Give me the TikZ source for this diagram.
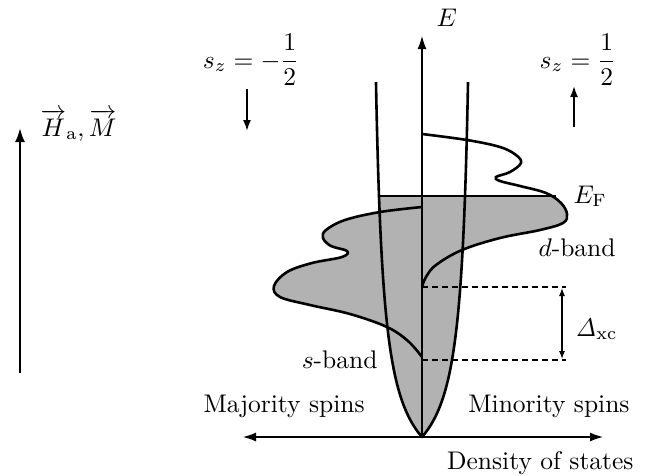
\documentclass[tikz,border=0pt]{standalone}
\usepackage{amsmath}
\usetikzlibrary{arrows.meta}
\begin{document}
\begin{tikzpicture}[x=1pt,y=-1pt,
  lbl/.style={inner sep=0pt,font=\normalsize,scale=2.55},
  thickc/.style={line width=2.6pt},
  thinl/.style={line width=1.3pt},
  shade/.style={fill=black!30},
  bigtip/.style={-{Latex[length=13pt,width=9pt]}},
  dashl/.style={line width=1.2pt,dash pattern=on 6pt off 4pt}]
\useasboundingbox (0,0) rectangle (646,475);
% coordinates
\coordinate (O) at (422,437);
\coordinate (Etop) at (422,36);
\coordinate (Dl) at (243,437);
\coordinate (Dr) at (603,437);
\coordinate (F1) at (378.5,196);
\coordinate (F2) at (556,196);
\coordinate (dbot) at (422,287);
\coordinate (sbot) at (422,360);
\coordinate (dend) at (566,287);
\coordinate (send) at (566,360);
\coordinate (xa) at (562,288);
\coordinate (xb) at (562,359);
% fills
\begin{scope}
\clip (0,196) rectangle (646,475);
\fill[shade] plot[domain=355:0,samples=90] ({422-54*(\x/(\x+61.6))},{437-\x})
  -- plot[domain=0:355,samples=90] ({422+54*(\x/(\x+61.6))},{437-\x}) -- cycle;
\fill[shade] plot[smooth,tension=0.6] coordinates {(422,134) (467,140) (500,147) (516,155) (521,163) (510,172) (496,177) (500,181) (520,186) (546,193) (561,203) (567,214) (563,223) (540,230) (500,238) (462,250) (436,265) (426,277) (422,287)} -- cycle;
\end{scope}
\fill[shade] plot[smooth,tension=0.6] coordinates {(422,207) (380,212) (345,220) (326,230) (323,238) (331,246) (347,251) (342,257) (312,263) (287,272) (274,286) (280,297) (310,305) (350,314) (387,327) (408,341) (422,357)} -- cycle;
% Fermi line
\draw[thinl] (F1) -- (F2);
% axes
\draw[thinl,bigtip] (O) -- (Etop);
\draw[thinl,{Latex[length=13pt,width=9pt]}-{Latex[length=13pt,width=9pt]}] (Dl) -- (Dr);
% dashed and Delta
\draw[dashl] (dbot) -- (dend);
\draw[dashl] (sbot) -- (send);
\draw[line width=1.1pt,{Latex[length=8pt,width=6pt]}-{Latex[length=8pt,width=6pt]}] (xa) -- (xb);
% curves
\draw[thickc,line join=round] plot[domain=355:0,samples=90] ({422-54*(\x/(\x+61.6))},{437-\x})
  -- plot[domain=0:355,samples=90] ({422+54*(\x/(\x+61.6))},{437-\x});
\draw[thickc] plot[smooth,tension=0.6] coordinates {(422,134) (467,140) (500,147) (516,155) (521,163) (510,172) (496,177) (500,181) (520,186) (546,193) (561,203) (567,214) (563,223) (540,230) (500,238) (462,250) (436,265) (426,277) (422,287)};
\draw[thickc] plot[smooth,tension=0.6] coordinates {(422,207) (380,212) (345,220) (326,230) (323,238) (331,246) (347,251) (342,257) (312,263) (287,272) (274,286) (280,297) (310,305) (350,314) (387,327) (408,341) (422,357)};
% spin arrows
\coordinate (dn1) at (247,89);
\coordinate (dn2) at (247,131);
\coordinate (up1) at (574,127);
\coordinate (up2) at (574,86);
\draw[line width=1.8pt,-{Latex[length=11pt,width=8pt]}] (dn1) -- (dn2);
\draw[line width=1.8pt,-{Latex[length=11pt,width=8pt]}] (up1) -- (up2);
\coordinate (H1) at (20,373);
\coordinate (H2) at (20,128);
\draw[line width=2.2pt,-{Latex[length=14pt,width=10pt]}] (H1) -- (H2);
% labels
\node[lbl,anchor=base west] (lE) at (436,26) {$E$};
\node[lbl] (lsm) at (251,60) {$s_z=-\dfrac{1}{2}$};
\node[lbl] (lsp) at (578,60) {$s_z=\dfrac{1}{2}$};
\node[lbl,anchor=base west] (lH) at (40,136) {$\overrightarrow{H}_{\mathrm{a}}, \overrightarrow{M}$};
\node[lbl,anchor=base west] (lEF) at (573,203) {$E_{\mathrm{F}}$};
\node[lbl,anchor=base west] (ld) at (538,256) {$d$-band};
\node[lbl,anchor=base west] (lx) at (575,336) {$\mathit{\Delta}_{\mathrm{xc}}$};
\node[lbl,anchor=base east] (ls) at (378,368) {$s$-band};
\node[lbl,anchor=base west] (lmaj) at (203,412) {Majority spins};
\node[lbl,anchor=base east] (lmin) at (630,412) {Minority spins};
\node[lbl,anchor=base east] (ldos) at (634,469) {Density of states};
\end{tikzpicture}
\end{document}
